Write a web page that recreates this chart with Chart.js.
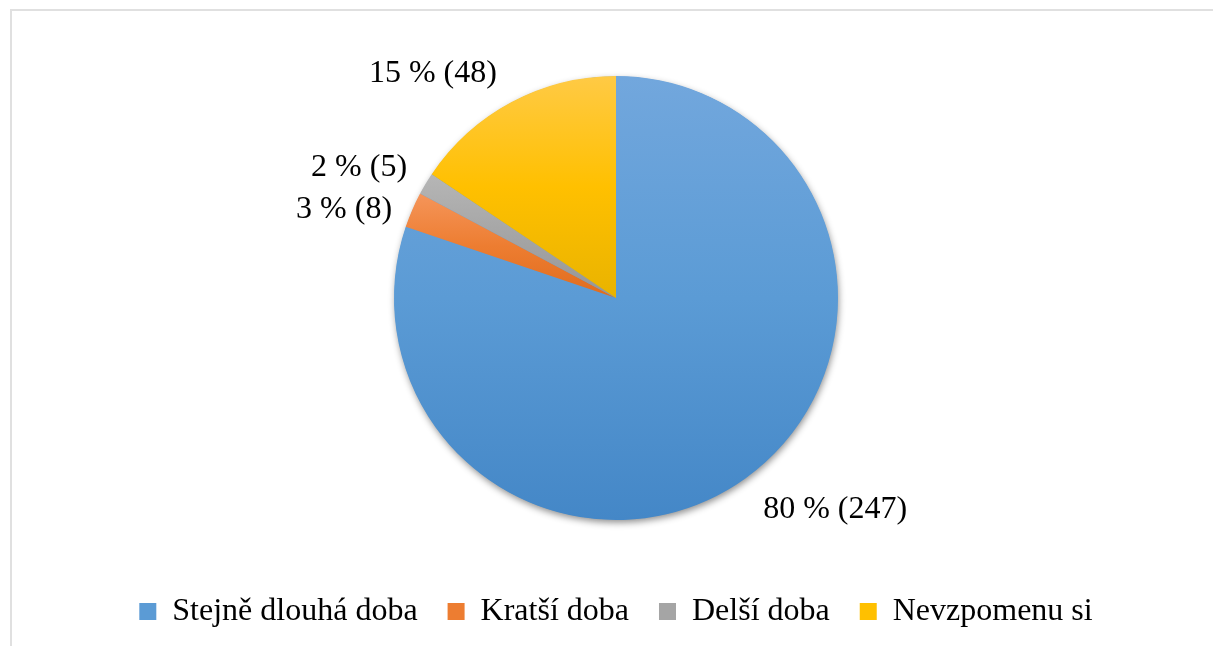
<!DOCTYPE html>
<html>
<head>
<meta charset="utf-8">
<script src="https://cdn.jsdelivr.net/npm/chart.js@4.4.1/dist/chart.umd.min.js"></script>
<style>
  html, body { margin: 0; padding: 0; background: #fff; overflow: hidden; }
  #frame { position: absolute; left: 10px; top: 9px; width: 1300px; height: 700px; border: 2px solid #e0e0e0; }
  #wrap { position: absolute; left: 0; top: 0; width: 1213px; height: 646px; }
</style>
</head>
<body>
<div id="frame"></div>
<div id="wrap"><canvas id="chart"></canvas></div>
<script>
const categories = ['Stejně dlouhá doba', 'Kratší doba', 'Delší doba', 'Nevzpomenu si'];
const counts = [247, 8, 5, 48];
const percents = [80, 3, 2, 15];

const colorTop = ['#72a7dd', '#f5955a', '#b6b6b6', '#ffca45'];
const colorMid = ['#5b9bd5', '#ed7d31', '#a5a5a5', '#ffc000'];
const colorBottom = ['#4487c7', '#e06c1d', '#969696', '#e9b300'];

const PIE_R = 222;
const FONT = '"Liberation Serif", "Times New Roman", serif';

// vertical gradient over each slice's own bounding box, like the office style
function sliceGradient(context) {
  const i = context.dataIndex;
  const chart = context.chart;
  const area = chart.chartArea;
  if (i === undefined) return colorMid[0];
  if (!area) return colorMid[i];
  const cy = (area.top + area.bottom) / 2;
  const total = counts.reduce((a, b) => a + b, 0);
  let before = 0;
  for (let k = 0; k < i; k++) before += counts[k];
  const a0 = -Math.PI / 2 + before / total * 2 * Math.PI;
  const a1 = a0 + counts[i] / total * 2 * Math.PI;
  const ys = [cy, cy + Math.sin(a0) * PIE_R, cy + Math.sin(a1) * PIE_R];
  [-Math.PI / 2, Math.PI / 2, 3 * Math.PI / 2].forEach(t => {
    if (t >= a0 && t <= a1) ys.push(cy + Math.sin(t) * PIE_R);
  });
  const g = chart.ctx.createLinearGradient(0, Math.min(...ys), 0, Math.max(...ys));
  g.addColorStop(0, colorTop[i]);
  g.addColorStop(0.5, colorMid[i]);
  g.addColorStop(1, colorBottom[i]);
  return g;
}

const pieShadow = {
  id: 'pieShadow',
  beforeDatasetsDraw(chart) {
    const arc = chart.getDatasetMeta(0).data[0];
    if (!arc) return;
    const { x, y, outerRadius } = arc.getProps(['x', 'y', 'outerRadius'], true);
    const ctx = chart.ctx;
    ctx.save();
    ctx.shadowColor = 'rgba(0,0,0,0.45)';
    ctx.shadowBlur = 7;
    ctx.shadowOffsetX = 1;
    ctx.shadowOffsetY = 3;
    ctx.fillStyle = '#5b9bd5';
    ctx.beginPath();
    ctx.arc(x, y, outerRadius - 0.5, 0, 2 * Math.PI);
    ctx.fill();
    ctx.restore();
  }
};

const sliceLabels = {
  id: 'sliceLabels',
  afterDatasetsDraw(chart) {
    const nudge = [[12, 23], [-11, 4], [-10, -11.5], [-10, -20]];
    const ctx = chart.ctx;
    ctx.save();
    ctx.font = '32px ' + FONT;
    ctx.fillStyle = '#000';
    ctx.textBaseline = 'middle';
    chart.getDatasetMeta(0).data.forEach((arc, i) => {
      const { x, y, startAngle, endAngle, outerRadius } =
        arc.getProps(['x', 'y', 'startAngle', 'endAngle', 'outerRadius'], true);
      const mid = (startAngle + endAngle) / 2;
      const ax = x + Math.cos(mid) * (outerRadius + 10);
      const ay = y + Math.sin(mid) * (outerRadius + 10);
      ctx.textAlign = Math.cos(mid) >= 0 ? 'left' : 'right';
      ctx.fillText(percents[i] + ' % (' + counts[i] + ')', ax + nudge[i][0], ay + nudge[i][1]);
    });
    ctx.restore();
  }
};

new Chart(document.getElementById('chart'), {
  type: 'pie',
  data: {
    labels: categories,
    datasets: [{
      data: counts,
      backgroundColor: sliceGradient,
      borderWidth: 0,
      radius: PIE_R
    }]
  },
  options: {
    responsive: true,
    maintainAspectRatio: false,
    animation: false,
    layout: { padding: { left: 19, right: 0, top: 30.5, bottom: 8.5 } },
    plugins: {
      tooltip: { enabled: false },
      legend: {
        position: 'bottom',
        labels: {
          boxWidth: 17,
          boxHeight: 17,
          padding: 30,
          color: '#000',
          font: { family: FONT, size: 32 },
          generateLabels: () => categories.map((text, i) => ({
            text,
            fillStyle: colorMid[i],
            strokeStyle: colorMid[i],
            lineWidth: 0,
            hidden: false,
            index: i,
            fontColor: '#000'
          }))
        }
      }
    }
  },
  plugins: [pieShadow, sliceLabels]
});
</script>
</body>
</html>
